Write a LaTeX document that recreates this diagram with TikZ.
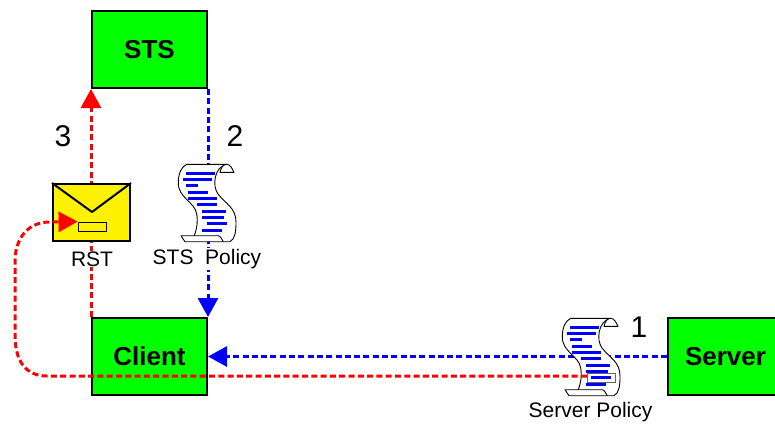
\documentclass[tikz,border=0pt]{standalone}
\usepackage{fontspec}
\setmainfont{Liberation Sans}
\usetikzlibrary{arrows.meta}
\tikzset{
  x=1pt,y=-1pt,
  party/.style={draw=black,line width=2pt,fill=green,minimum width=115pt,minimum height=77pt,inner sep=0pt,font=\fontsize{26}{28}\selectfont\bfseries},
  caption/.style={fill=white,inner sep=1pt,font=\fontsize{21}{23}\selectfont},
  num/.style={inner sep=0pt,font=\fontsize{30}{32}\selectfont},
  flow/.style={line width=3pt,dash pattern=on 6pt off 3.3pt,-{Triangle[length=19pt,width=20pt]}},
  envbox/.style={draw=black,line width=2pt,fill=yellow,minimum width=77pt,minimum height=57pt,inner sep=0pt},
  markbox/.style={draw=black,line width=0.8pt,minimum width=28pt,minimum height=9pt,inner sep=0pt},
  scrollpaper/.style={draw=black,line width=0.9pt,fill=white,line join=round},
  textbar/.style={draw=none,fill=blue}
}
\newcommand{\scrollat}[2]{%
  \begin{scope}[shift={(#1,#2)}]
    \path[scrollpaper] (8.7,0.3) -- (48.7,0.3)
      .. controls (36,3) and (34,22) .. (40,30)
      .. controls (48,40) and (58,44) .. (58,58)
      .. controls (58,68) and (57,75) .. (52,77.7)
      -- (7,77.7) -- (3,71.7) -- (16.3,71.7)
      .. controls (19,64) and (20,58) .. (18.7,50)
      .. controls (17,38) and (0.3,34) .. (0.3,19)
      .. controls (0.3,10) and (3,3) .. (8.7,0.3) -- cycle;
    \path[scrollpaper] (48.7,0.3) .. controls (52,0.3) and (54,4) .. (56,8.3) -- (42,8.3)
      .. controls (43,4) and (45,0.3) .. (48.7,0.3) -- cycle;
    \draw[line width=0.9pt] (16.3,71.7) -- (40.3,71.7) .. controls (42,72) and (44,75) .. (45.3,77.7);
    \foreach \xa/\xb/\yy in {8/37/9.3,5/34/15.3,8/20/21.3,10/30/28.3,10/39/34.3,19/39/40.3,24/48/47.3,24/46/53.3,29/49/59.3,24/44/66.3}
      \path[textbar] (\xa,\yy-1.7) rectangle (\xb,\yy+1.7);
  \end{scope}}
\begin{document}
\begin{tikzpicture}
\useasboundingbox (0,0) rectangle (775,423);
\coordinate (stspos) at (149.5,49.5);
\coordinate (clientpos) at (149.5,356.5);
\coordinate (serverpos) at (725.5,356.5);
\node[party,draw=none,fill=none,text opacity=0] (sts) at (stspos) {STS};
\node[party,draw=none,fill=none,text opacity=0] (client) at (clientpos) {Client};
\node[party,draw=none,fill=none,text opacity=0] (server) at (serverpos) {Server};
% connectors that run behind the documents
\draw[flow,red] (client.north west) -- (sts.south west);
\draw[flow,blue] (sts.south east) -- (client.north east);
\draw[flow,blue] (server.west) -- (client.east);
% boxes
\node[party] (stsbox) at (stspos) {STS};
\node[party] (clientbox) at (clientpos) {Client};
\node[party] (serverbox) at (serverpos) {Server};
% envelope
\node[envbox] (env) at (91.5,212.5) {};
\coordinate (flap) at (92,212);
\draw[line width=2pt,line join=round] (env.north west) -- (flap) -- (env.north east);
\node[markbox,fill=yellow] (envmark) at (92,226.5) {};
\node[caption] (rst) at (92,259) {RST};
% policies
\scrollat{178}{164}
\node[caption] (stspolicy) at (207,259) {STS\ \ Policy};
\scrollat{562}{318}
\node[markbox,draw=black!60] (srvmark) at (601,377.5) {};
\coordinate (srvin) at (587,376);
\node[caption] (srvpolicy) at (590.5,412) {Server Policy};
% the token path
\draw[flow,red] (srvin) -- (47,376) .. controls (25,376) and (15,360) .. (15,335) -- (15,262)
   .. controls (15,238) and (28,222) .. (50,222) -- (envmark.north west);
\node[num] (n3) at (63,136) {3};
\node[num] (n2) at (235,136) {2};
\node[num] (n1) at (639,327) {1};
\end{tikzpicture}
\end{document}
